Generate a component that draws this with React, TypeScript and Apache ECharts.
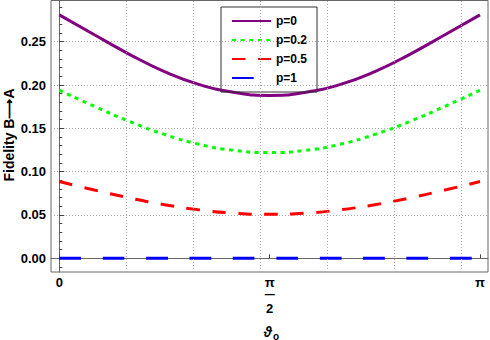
import React, { useEffect, useRef } from 'react';
import * as echarts from 'echarts';

const PI = Math.PI;
// angle steps in units of pi/12
const thetaSteps = [0, 1, 2, 3, 4, 5, 6, 7, 8, 9, 10, 11, 12];
const seriesNames = ['p=0', 'p=0.2', 'p=0.5', 'p=1'];
const p0Values = [0.281, 0.258, 0.2355, 0.2155, 0.2005, 0.1915, 0.188, 0.1915, 0.2005, 0.2155, 0.2355, 0.258, 0.281];
const p02Values = [0.194, 0.1755, 0.158, 0.143, 0.1315, 0.1245, 0.122, 0.1245, 0.1315, 0.143, 0.158, 0.1755, 0.194];
const p05Values = [0.0886, 0.0788, 0.0697, 0.0619, 0.0559, 0.0521, 0.0508, 0.0521, 0.0559, 0.0619, 0.0697, 0.0788, 0.0886];
const p1Values = [0, 0, 0, 0, 0, 0, 0, 0, 0, 0, 0, 0, 0];

const yTickValues = [0, 0.05, 0.1, 0.15, 0.2, 0.25];
const yMinorTickValues = [-0.01, 0.01, 0.02, 0.03, 0.04, 0.06, 0.07, 0.08, 0.09, 0.11, 0.12, 0.13, 0.14, 0.16, 0.17, 0.18, 0.19, 0.21, 0.22, 0.23, 0.24, 0.26, 0.27, 0.28, 0.29];
const xTickValues = [0, PI / 2, PI];
const xGridValues = [0.5, 1.0, 1.5, 2.0, 2.5, 3.0];

const X_MIN = -0.062;
const X_MAX = 3.2013;
const Y_MIN = -0.0158;
const Y_MAX = 0.2976;

const FONT = '"Liberation Sans", Arial, sans-serif';

export default function App() {
  const ref = useRef<HTMLDivElement>(null);
  useEffect(() => {
    document.body.style.margin = '0';
    if (!ref.current) return;
    const chart = echarts.init(ref.current, null, { renderer: 'svg' });
    const theta = thetaSteps.map((k) => (k * PI) / 12);
    const mk = (vals: number[]) => theta.map((t, i) => [t, vals[i]]);
    const gridStyle = { color: '#aaa', type: [1, 2], width: 1 };
    const option: any = {
      animation: false,
      backgroundColor: '#fff',
      grid: { left: 51, right: 2, top: 0.5, bottom: 68, show: true, borderColor: '#666', borderWidth: 1 },
      legend: {
        orient: 'vertical',
        left: 221,
        top: 7,
        itemWidth: 39,
        itemHeight: 14,
        itemGap: 7,
        padding: [8, 10, 8, 10],
        borderColor: '#333',
        borderWidth: 1,
        data: seriesNames,
        itemStyle: { opacity: 0 },
        textStyle: { fontSize: 12, fontWeight: 'bold', fontFamily: FONT, color: '#000' },
      },
      xAxis: [
        {
          type: 'value', min: X_MIN, max: X_MAX,
          axisLine: { show: true, lineStyle: { color: '#666' } },
          axisTick: { show: false },
          axisLabel: { show: false },
          splitLine: { show: false },
        },
        {
          type: 'value', min: X_MIN, max: X_MAX, position: 'bottom',
          axisLine: { show: false },
          axisTick: { show: true, inside: true, length: 4, customValues: xTickValues, lineStyle: { color: '#444' } },
          axisLabel: {
            customValues: xTickValues,
            margin: 3,
            formatter: (v: number) => {
              if (Math.abs(v - PI / 2) < 1e-6) return '{n|π}\n{bar|—}\n{d|2}';
              if (Math.abs(v) < 1e-6) return '{n|0}';
              return '{n|π}';
            },
            rich: {
              n: { fontSize: 13, fontWeight: 'bold', fontFamily: FONT, color: '#000', lineHeight: 14 },
              bar: { fontSize: 10, fontWeight: 'bold', fontFamily: FONT, color: '#000', lineHeight: 10 },
              d: { fontSize: 13, fontWeight: 'bold', fontFamily: FONT, color: '#000', lineHeight: 18 },
            },
          },
          splitLine: { show: false },
        },
      ],
      yAxis: [
        {
          type: 'value', min: Y_MIN, max: Y_MAX,
          axisLine: { show: true, lineStyle: { color: '#666' } },
          axisTick: { show: true, inside: true, length: 5, customValues: yTickValues, lineStyle: { color: '#444' } },
          axisLabel: {
            customValues: yTickValues,
            margin: 5,
            formatter: (v: number) => v.toFixed(2),
            fontSize: 13, fontWeight: 'bold', fontFamily: FONT, color: '#000',
          },
          splitLine: { show: true, lineStyle: gridStyle },
        },
        {
          type: 'value', min: Y_MIN, max: Y_MAX, position: 'left',
          axisLine: { show: false },
          axisTick: { show: true, inside: true, length: 3, customValues: yMinorTickValues, lineStyle: { color: '#444' } },
          axisLabel: { show: false },
          splitLine: { show: false },
        },
      ],
      graphic: [
        {
          type: 'text', x: 9, y: 135, rotation: PI / 2,
          style: { text: 'Fidelity B⟶A', font: 'bold 14px ' + FONT, align: 'center', verticalAlign: 'middle', fill: '#000' },
        },
        {
          type: 'text', x: 268, y: 332,
          style: { text: 'ϑ', font: 'italic bold 14px ' + FONT, align: 'center', verticalAlign: 'middle', fill: '#000' },
        },
        {
          type: 'text', x: 276, y: 336,
          style: { text: 'o', font: 'bold 10px ' + FONT, align: 'center', verticalAlign: 'middle', fill: '#000' },
        },
      ],
      series: [
        {
          name: 'grid', type: 'line', data: [], silent: true,
          markLine: {
            silent: true, symbol: 'none', label: { show: false },
            lineStyle: gridStyle,
            data: xGridValues.map((v) => ({ xAxis: v })),
          },
        },
        { name: seriesNames[0], type: 'line', data: mk(p0Values), smooth: true, showSymbol: false, symbol: 'none', lineStyle: { color: '#800080', width: 3 }, itemStyle: { color: '#800080' } },
        { name: seriesNames[1], type: 'line', data: mk(p02Values), smooth: true, showSymbol: false, symbol: 'none', lineStyle: { color: '#00ff00', width: 3, type: [4, 4.6] }, itemStyle: { color: '#00ff00' } },
        { name: seriesNames[2], type: 'line', data: mk(p05Values), smooth: true, showSymbol: false, symbol: 'none', lineStyle: { color: '#ff0000', width: 3, type: [13.5, 12.5] }, itemStyle: { color: '#ff0000' } },
        { name: seriesNames[3], type: 'line', data: mk(p1Values), smooth: true, showSymbol: false, symbol: 'none', lineStyle: { color: '#0000ff', width: 3, type: [21.7, 21.7] }, itemStyle: { color: '#0000ff' } },
      ],
    };
    chart.setOption(option);
    return () => chart.dispose();
  }, []);
  return <div ref={ref} style={{ width: 490, height: 340, position: 'absolute', left: 0, top: 0 }} />;
}
